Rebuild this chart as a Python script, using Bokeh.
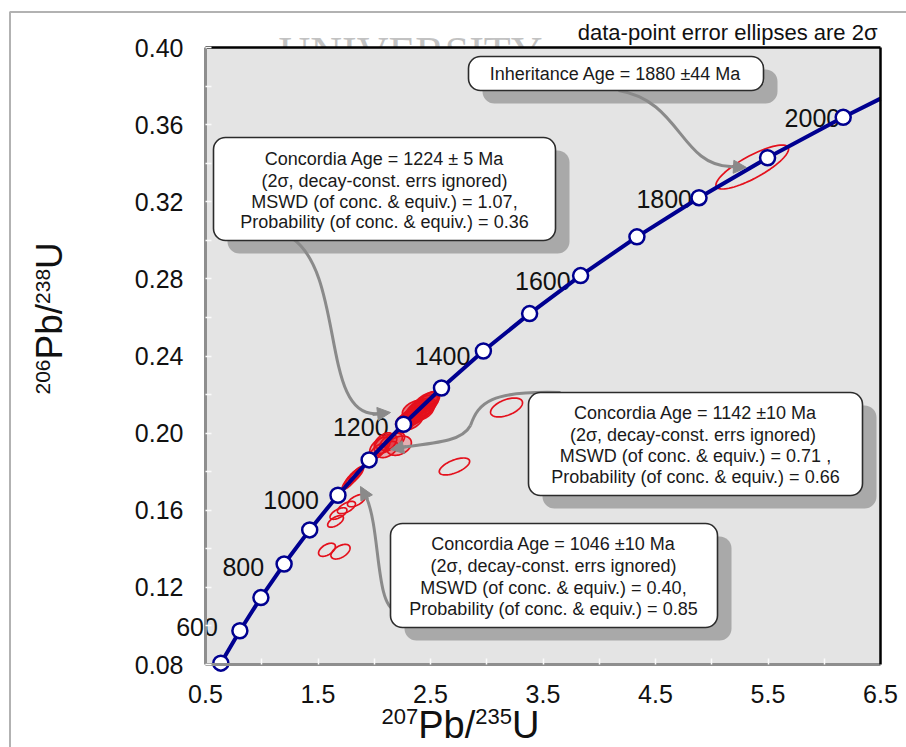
import numpy as np
from bokeh.plotting import figure
from bokeh.models import (Label, LinearAxis, FixedTicker, NumeralTickFormatter,
                          BoxAnnotation, Arrow, NormalHead, Range1d, ColumnDataSource)
from bokeh.core.properties import value
from bokeh.embed import file_html
from bokeh.resources import INLINE

# ---------------- data ----------------
conc_age = [500, 600, 700, 800, 900, 1000, 1100, 1200, 1300, 1400, 1500, 1600, 1700, 1800, 1900, 2000]
conc_x = [0.6363, 0.8056, 0.9925, 1.1987, 1.4263, 1.6774, 1.9545, 2.2603, 2.5977, 2.9701,
          3.3810, 3.8344, 4.3348, 4.8869, 5.4962, 6.1685]
conc_y = [0.0807, 0.0975, 0.1147, 0.1321, 0.1498, 0.1678, 0.1861, 0.2046, 0.2234, 0.2426,
          0.2620, 0.2817, 0.3018, 0.3221, 0.3428, 0.3638]
tail_x = [6.5]
tail_y = [0.3735]
label_age = [600, 800, 1000, 1200, 1400, 1600, 1800, 2000]

# error ellipses: centre, 2-sigma half extents, correlation, group
ell_x = [2.30, 2.34, 2.38, 2.42, 2.45, 2.36, 2.33, 2.47, 2.40, 2.28, 2.49, 2.43,
         2.05, 2.10, 2.15, 2.22, 2.12, 2.18, 2.08, 2.03,
         1.79, 1.82, 1.80, 1.84,
         1.842, 1.753, 1.682, 1.656, 1.58, 1.70, 3.176, 2.713, 5.36]
ell_y = [0.2070, 0.2085, 0.2100, 0.2130, 0.2150, 0.2125, 0.2060, 0.2165, 0.2115, 0.2045, 0.2175, 0.2110,
         0.1930, 0.1945, 0.1955, 0.1935, 0.1915, 0.1960, 0.1962, 0.1905,
         0.1755, 0.1775, 0.1768, 0.1785,
         0.1650, 0.1614, 0.1583, 0.1542, 0.1395, 0.1385, 0.2133, 0.1827, 0.3380]
ell_sx = [0.11, 0.12, 0.12, 0.13, 0.12, 0.11, 0.10, 0.11, 0.14, 0.08, 0.08, 0.10,
          0.09, 0.10, 0.10, 0.11, 0.09, 0.09, 0.08, 0.07,
          0.075, 0.075, 0.065, 0.065,
          0.08, 0.08, 0.075, 0.07, 0.075, 0.085, 0.142, 0.135, 0.323]
ell_sy = [0.0045, 0.0050, 0.0048, 0.0050, 0.0048, 0.0046, 0.0044, 0.0046, 0.0055, 0.0040, 0.0040, 0.0045,
          0.0048, 0.0050, 0.0045, 0.0050, 0.0042, 0.0042, 0.0040, 0.0040,
          0.0047, 0.0047, 0.0042, 0.0042,
          0.0032, 0.0032, 0.0030, 0.0030, 0.0034, 0.0038, 0.0049, 0.0044, 0.0114]
ell_rho = [0.5, 0.5, 0.55, 0.5, 0.5, 0.45, 0.5, 0.5, 0.6, 0.5, 0.5, 0.5,
           0.5, 0.5, 0.5, 0.3, 0.5, 0.5, 0.6, 0.6,
           0.85, 0.85, 0.85, 0.8,
           0.6, 0.6, 0.6, 0.6, 0.5, 0.5, 0.5, 0.6, 0.82]
ell_group = ["c1224"] * 12 + ["c1142"] * 8 + ["c1046"] * 4 + ["single"] * 9

x_ticks = [0.5, 1.5, 2.5, 3.5, 4.5, 5.5, 6.5]
x_minor = [1.0, 2.0, 3.0, 4.0, 5.0, 6.0]
y_ticks = [0.08, 0.12, 0.16, 0.20, 0.24, 0.28, 0.32, 0.36, 0.40]
y_minor = [0.10, 0.14, 0.18, 0.22, 0.26, 0.30, 0.34, 0.38]

note_text = "data-point error ellipses are 2\u03c3"
text_1224 = ["Concordia Age = 1224 \u00b1 5 Ma", "(2\u03c3, decay-const. errs ignored)",
             "MSWD (of conc. & equiv.) = 1.07,", "Probability (of conc. & equiv.) = 0.36"]
text_1142 = ["Concordia Age = 1142 \u00b110 Ma", "(2\u03c3,  decay-const. errs ignored)",
             "MSWD (of conc. & equiv.) = 0.71 ,", "Probability (of conc. & equiv.) = 0.66"]
text_1046 = ["Concordia Age = 1046 \u00b110 Ma", "(2\u03c3, decay-const. errs ignored)",
             "MSWD (of conc. & equiv.) = 0.40,", "Probability (of conc. & equiv.) = 0.85"]
text_1880 = ["Inheritance Age = 1880 \u00b144 Ma"]

# ---------------- layout geometry (canvas pixels) ----------------
W, H = 906, 747
FL, FR, FT, FB = 205, 880, 47, 664          # plot box on the canvas
X0, X1, Y0, Y1 = 0.5, 6.5, 0.08, 0.40       # plot box in data units


def dx(px):
    return X0 + (px - FL) * (X1 - X0) / (FR - FL)


def dy(py):
    return Y1 - (py - FT) * (Y1 - Y0) / (FB - FT)


FONT = "Liberation Sans"
BG = "#e4e4e4"
BLUE = "#000090"
RED = "#e4101c"
GREY = "#8a8a8a"
DESC = 0.216   # descent fraction used to place bottom-anchored labels on a baseline

p = figure(width=W, height=H, x_range=Range1d(dx(0), dx(W)), y_range=Range1d(dy(H), dy(0)),
           output_backend="svg", toolbar_location=None,
           x_axis_location=None, y_axis_location=None,
           min_border=0, min_border_left=0, min_border_right=0, min_border_top=0,
           min_border_bottom=0, background_fill_color="white", border_fill_color="white")
p.outline_line_color = None
p.xgrid.visible = False
p.ygrid.visible = False

# watermark (partly hidden by the plot area)
p.add_layout(Label(x=dx(278), y=dy(76), text="UNIVERSITY", text_font="Liberation Serif",
                   text_font_size="44px", text_color="#c2c2c2", level="underlay"))
# plot area background
p.quad(left=[X0], right=[X1], bottom=[Y0], top=[Y1], fill_color=BG, line_color=None)

xa = LinearAxis(fixed_location=Y0, bounds=(X0, X1),
                ticker=FixedTicker(ticks=x_ticks, minor_ticks=x_minor),
                formatter=NumeralTickFormatter(format="0.0"))
ya = LinearAxis(fixed_location=X0, bounds=(Y0, Y1),
                ticker=FixedTicker(ticks=y_ticks, minor_ticks=y_minor),
                formatter=NumeralTickFormatter(format="0.00"))
for ax, so in ((xa, 20), (ya, 22)):
    ax.major_label_text_font = FONT
    ax.major_label_text_font_size = "25px"
    ax.major_label_text_color = "#111111"
    ax.axis_line_color = "#8e8e8e"
    ax.axis_line_width = 3
    ax.major_tick_in = 6
    ax.major_tick_out = 0
    ax.minor_tick_in = 6
    ax.minor_tick_out = 0
    ax.major_tick_line_color = "#fbfbfb"
    ax.minor_tick_line_color = "#fbfbfb"
    ax.major_tick_line_width = 1.5
    ax.minor_tick_line_width = 1.5
    ax.major_label_standoff = so
p.add_layout(xa, "below")
p.add_layout(ya, "left")
ta = LinearAxis(fixed_location=Y1, bounds=(X0, X1), ticker=FixedTicker(ticks=[]),
                major_label_text_font_size="0px", axis_line_color="black", axis_line_width=2.5,
                major_tick_line_color=None, minor_tick_line_color=None)
ra = LinearAxis(fixed_location=X1, bounds=(Y0, Y1), ticker=FixedTicker(ticks=[]),
                major_label_text_font_size="0px", axis_line_color="black", axis_line_width=2.5,
                major_tick_line_color=None, minor_tick_line_color=None)
p.add_layout(ta, "above")
p.add_layout(ra, "right")

# age labels on concordia
lbl_dx = [-22, -20, -19, -15, -13, -10, -7, -3]
lbl_dy = [-4, 3, 5, 3, 5, 5, 1, 1]
idx = [conc_age.index(a) for a in label_age]
lsrc = ColumnDataSource(dict(x=[conc_x[i] for i in idx], y=[conc_y[i] for i in idx],
                             t=[str(a) for a in label_age], xo=lbl_dx, yo=lbl_dy))
p.text(x="x", y="y", text="t", x_offset="xo", y_offset="yo", source=lsrc,
       text_font=value(FONT), text_font_size="25px", text_color="#111111",
       text_align="right", text_baseline="alphabetic")

# error ellipses
t = np.linspace(0, 2 * np.pi, 73)
for grp, falpha in (("single", 0.0), ("c1046", 0.15), ("c1142", 0.25), ("c1224", 0.5)):
    xs, ys = [], []
    for x, y, sx, sy, r, g in zip(ell_x, ell_y, ell_sx, ell_sy, ell_rho, ell_group):
        if g != grp:
            continue
        xs.append(list(x + sx * np.cos(t)))
        ys.append(list(y + sy * (r * np.cos(t) + np.sqrt(1 - r * r) * np.sin(t))))
    p.patches(xs, ys, fill_color=RED, fill_alpha=falpha, line_color=RED, line_width=1.7)

# concordia
p.line(conc_x + tail_x, conc_y + tail_y, line_color=BLUE, line_width=4)
p.scatter(conc_x, conc_y, size=15, fill_color="white", line_color=BLUE, line_width=2.5)

# callouts
callouts = [
    (213, 555, 137, 240, 384, [158, 180, 201, 221], text_1224),
    (528, 862, 392, 495, 695, [412, 434, 455, 476], text_1142),
    (390, 717, 523, 627, 553, [543, 565, 587, 608], text_1046),
    (468, 763, 56, 90, 615, [73], text_1880),
]
for l, r, tp, b, cx, lys, lines in callouts:
    p.quad(left=[dx(l + 14)], right=[dx(r + 14)], top=[dy(tp + 13)], bottom=[dy(b + 13)],
           fill_color="#a2a2a2", fill_alpha=0.9, line_color=None, border_radius=12)

curves = [
    ((292, 238), (345, 275), (320, 420), (378, 413)),
    ((560, 392), (490, 390), (478, 402), (470, 425)),
    ((470, 425), (462, 440), (440, 442), (400, 447)),
    ((395, 610), (375, 605), (380, 530), (366, 497)),
    ((618, 90), (680, 100), (680, 165), (730, 166)),
]
p.bezier(x0=[dx(c[0][0]) for c in curves], y0=[dy(c[0][1]) for c in curves],
         cx0=[dx(c[1][0]) for c in curves], cy0=[dy(c[1][1]) for c in curves],
         cx1=[dx(c[2][0]) for c in curves], cy1=[dy(c[2][1]) for c in curves],
         x1=[dx(c[3][0]) for c in curves], y1=[dy(c[3][1]) for c in curves],
         line_color=GREY, line_width=3)
arrows = [((372, 414), (390, 412)), ((406, 446), (390, 449)),
          ((367, 499), (360, 486)), ((728, 166), (746, 167))]
for (sx_, sy_), (ex_, ey_) in arrows:
    p.add_layout(Arrow(end=NormalHead(size=13, fill_color=GREY, line_color=GREY),
                       x_start=dx(sx_), y_start=dy(sy_), x_end=dx(ex_), y_end=dy(ey_),
                       line_color=GREY, line_width=3))

for l, r, tp, b, cx, lys, lines in callouts:
    p.quad(left=[dx(l)], right=[dx(r)], top=[dy(tp)], bottom=[dy(b)],
           fill_color="white", line_color="#2b2b2b", line_width=1.6, border_radius=12)
    p.text(x=[dx(cx)] * len(lines), y=[dy(v) for v in lys], text=lines,
           text_font=value(FONT), text_font_size="18px", text_color="#1a1a1a",
           text_align="center", text_baseline="middle")

# note at top right (bottom-anchored, baseline at y = 40 px)
p.add_layout(Label(x=dx(877), y=dy(40 + DESC * 22), text=note_text, text_font=FONT,
                   text_font_size="22px", text_color="#111111", text_align="right"))

# axis titles built from pieces (superscripts)
WID = {"207": 3 * 0.556, "235": 3 * 0.556, "206": 3 * 0.556, "238": 3 * 0.556,
       "Pb/": 0.667 + 0.556 + 0.278, "U": 0.722}
xt = 381
for txt, sz in (("207", 22), ("Pb/", 38), ("235", 22), ("U", 38)):
    base = 737 if sz == 38 else 719
    p.add_layout(Label(x=dx(xt), y=dy(base + DESC * sz), text=txt, text_font=FONT,
                       text_font_size=f"{sz}px", text_color="#111111"))
    xt += WID[txt] * sz
yt = 394
for txt, sz in (("206", 21), ("Pb/", 37), ("238", 21), ("U", 37)):
    base = 62 if sz == 37 else 45
    p.add_layout(Label(x=dx(base + DESC * sz), y=dy(yt), text=txt, text_font=FONT,
                       angle=np.pi / 2, text_font_size=f"{sz}px", text_color="#111111"))
    yt -= WID[txt] * sz

# outer frame of the picture
p.add_layout(BoxAnnotation(left=dx(9.5), right=dx(990), top=dy(11.5), bottom=dy(820),
                           fill_color=None, line_color="black", line_width=2))

open("out.html", "w").write(file_html(p, INLINE))
